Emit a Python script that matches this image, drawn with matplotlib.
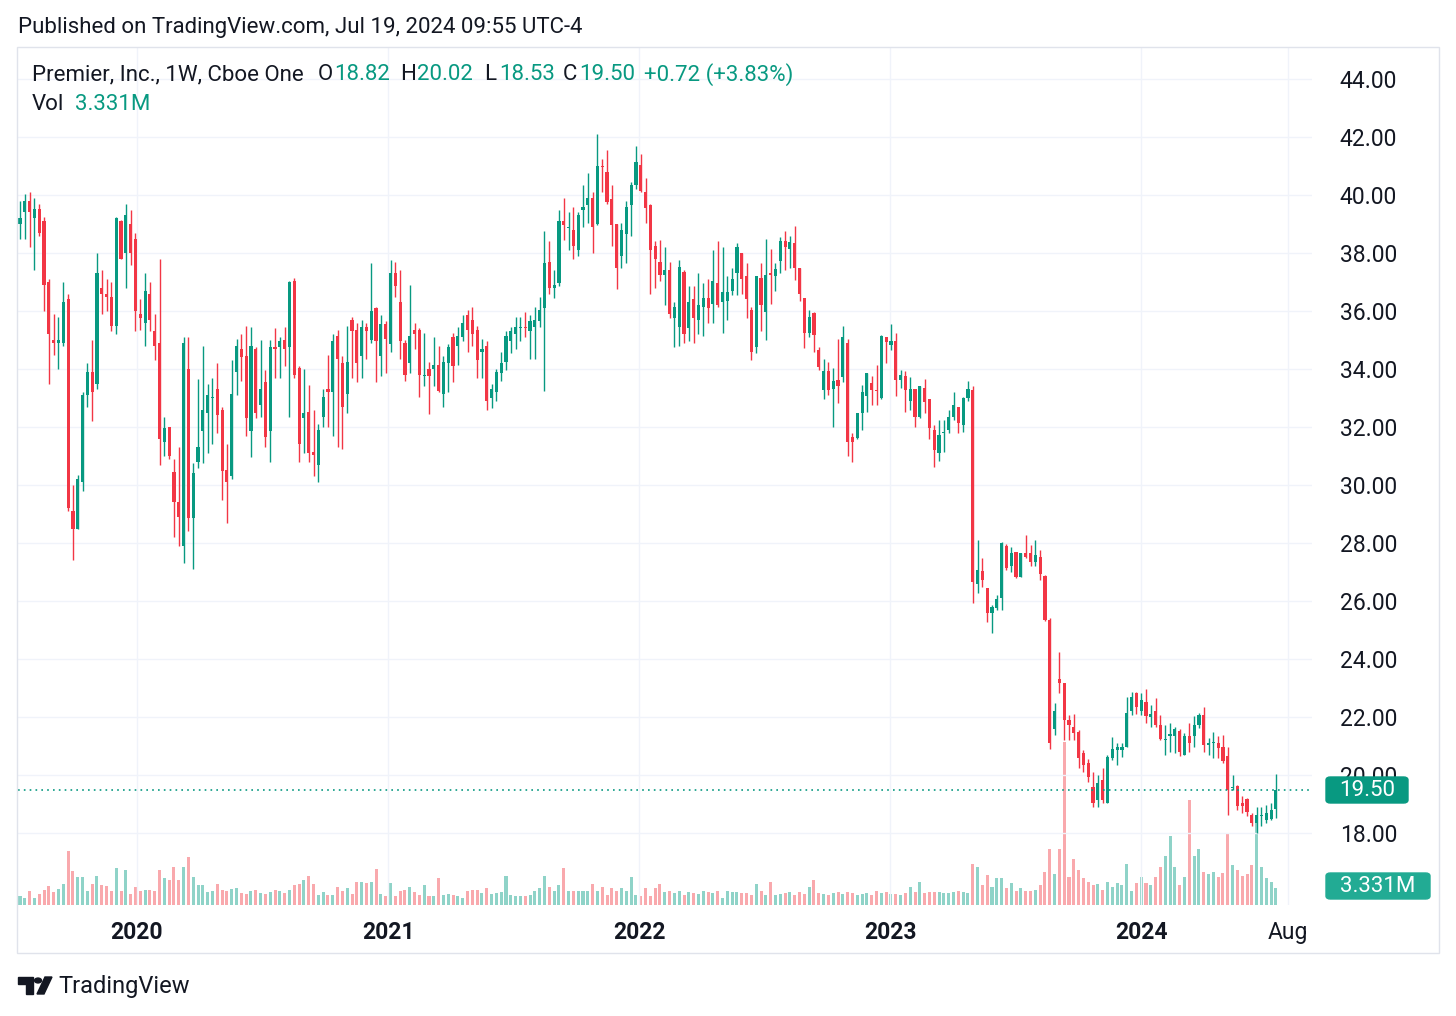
import numpy as np
import pandas as pd
import matplotlib
matplotlib.use('Agg')
import matplotlib.pyplot as plt
import matplotlib.dates as mdates
from matplotlib.patches import Rectangle, FancyBboxPatch, Polygon, Circle

plt.rcParams['font.family'] = ['Roboto', 'DejaVu Sans']

# weekly candles, Premier Inc. (PINC), Jul 2019 - Jul 2024
weeks = pd.date_range('2019-07-15', periods=262, freq='7D')

opens = [
    39.0, 39.4, 39.8, 39.2, 39.5, 39.1, 37.0, 35.0, 34.9, 34.9, 36.4, 29.1, 28.5, 30.1, 33.1, 33.9, 33.5, 36.8, 36.6, 36.5, 35.5, 39.1, 38.0, 39.0,
    38.5, 35.9, 35.6, 36.6, 35.3, 34.9, 31.5, 32.0, 30.45, 29.4, 27.9, 34.0, 28.85, 30.8, 31.85, 32.5, 33.0, 33.3, 32.6, 30.5, 30.3, 33.9, 34.7, 34.45,
    31.85, 34.7, 32.75, 33.55, 31.85, 34.75, 34.75, 35.0, 34.75, 37.05, 34.05, 32.3, 32.5, 31.15, 30.7, 32.35, 33.3, 33.2, 35.15, 34.2, 33.15, 35.7, 35.35, 34.45,
    35.45, 35.0, 36.1, 34.45, 35.55, 34.85, 37.3, 36.3, 34.9, 34.2, 35.35, 35.35, 33.75, 34.0, 34.0, 34.15, 33.15, 34.2, 35.1, 34.8, 35.1, 35.85, 35.7, 35.35,
    34.6, 34.8, 33.0, 33.2, 33.85, 34.25, 34.95, 35.2, 35.4, 35.45, 35.3, 35.45, 35.65, 36.1, 37.7, 36.8, 36.95, 39.1, 38.85, 38.8, 38.1, 39.5, 39.65, 39.9,
    39.0, 41.0, 40.8, 39.85, 39.0, 37.9, 38.65, 39.65, 40.35, 41.05, 40.1, 39.65, 38.25, 37.7, 37.25, 37.4, 35.75, 35.45, 37.35, 35.4, 36.4, 35.7, 36.15, 36.45,
    36.25, 36.95, 36.3, 36.35, 36.7, 37.3, 38.0, 37.2, 36.05, 34.75, 37.15, 35.95, 37.3, 37.2, 37.74, 38.4, 38.13, 38.36, 37.47, 36.44, 35.23, 35.92, 34.66,
    33.27, 33.93, 33.3, 33.62, 33.73, 34.88, 31.66, 31.63, 32.49, 33.06, 33.52, 33.27, 33.0, 35.11, 34.82, 34.97, 33.62, 33.75, 32.9, 33.3, 32.35, 33.33, 32.95, 31.9,
    31.12, 31.8, 31.9, 32.36, 32.68, 32.07, 33.0, 33.26, 26.6, 27.02, 26.44, 25.6, 25.75, 26.1, 27.88, 27.19, 27.7, 26.84, 27.65, 27.65, 27.36, 27.53, 26.87, 25.35,
    21.6, 23.3, 23.16, 21.9, 21.64, 21.5, 20.75, 20.42, 19.6, 19.14, 19.83, 19.05, 20.57, 20.86, 20.86, 20.98, 22.2, 22.84, 22.2, 22.53, 22.0, 22.22, 21.72, 21.2,
    21.35, 21.35, 21.5, 20.7, 21.33, 21.33, 21.73, 22.07, 21.04, 21.1, 21.12, 20.98, 20.64, 19.55, 19.62, 19.05, 19.16, 18.62, 18.34, 18.57, 18.45, 18.5, 18.82,
]
highs = [
    39.8, 40.05, 40.1, 39.9, 39.7, 39.25, 37.1, 35.9, 35.8, 37.0, 36.6, 30.0, 30.35, 33.2, 34.2, 35.0, 38.0, 37.4, 37.1, 37.0, 39.25, 39.15, 39.7, 39.5,
    38.7, 36.4, 37.3, 37.0, 35.9, 37.8, 32.35, 32.0, 30.9, 31.3, 35.1, 35.1, 30.75, 33.65, 34.8, 33.5, 33.7, 34.2, 32.7, 31.4, 34.3, 35.05, 35.2, 35.5,
    35.45, 34.75, 35.0, 33.95, 35.0, 35.4, 35.1, 35.45, 37.05, 37.15, 34.1, 34.0, 33.45, 32.6, 32.1, 33.3, 34.5, 35.2, 35.35, 34.45, 35.5, 35.8, 35.6, 35.7,
    35.6, 37.65, 36.15, 35.85, 35.65, 37.75, 37.7, 37.4, 35.0, 36.9, 35.6, 35.4, 35.25, 34.25, 35.1, 34.8, 34.45, 34.85, 35.25, 35.45, 35.85, 36.05, 36.15, 35.5,
    35.05, 34.95, 33.5, 34.0, 34.6, 35.3, 35.45, 35.8, 35.8, 35.95, 35.85, 36.15, 36.5, 38.75, 38.4, 37.4, 39.5, 39.9, 39.4, 39.6, 39.4, 40.35, 40.75, 40.1,
    42.1, 41.25, 41.55, 40.35, 39.0, 39.05, 39.8, 40.45, 41.7, 41.4, 40.6, 39.7, 38.4, 38.45, 38.2, 37.7, 36.3, 37.75, 37.4, 36.85, 36.85, 37.3, 36.95, 37.1,
    38.1, 38.4, 38.2, 37.2, 37.5, 38.35, 38.0, 37.65, 36.15, 37.2, 37.65, 38.5, 38.15, 37.65, 38.54, 38.77, 38.6, 38.93, 37.5, 36.44, 36.04, 35.98, 34.77,
    34.36, 34.25, 34.05, 35.05, 35.48, 35.02, 31.78, 32.49, 33.44, 33.85, 33.75, 34.13, 35.17, 35.11, 35.55, 35.23, 33.96, 33.94, 33.71, 33.3, 33.41, 33.67, 32.98, 32.06,
    32.25, 32.25, 32.59, 33.22, 32.68, 33.05, 33.57, 33.42, 28.1, 27.48, 26.44, 25.87, 26.21, 28.05, 27.97, 27.85, 27.7, 27.67, 28.28, 27.94, 28.11, 27.76, 26.9, 25.4,
    22.5, 24.25, 23.18, 22.07, 22.1, 21.55, 20.86, 20.54, 20.11, 20.0, 20.23, 20.69, 21.32, 21.09, 21.11, 22.68, 22.87, 22.87, 22.82, 22.95, 22.4, 22.64, 22.07, 21.72,
    21.8, 21.67, 21.58, 21.46, 21.8, 22.04, 22.13, 22.34, 21.27, 21.5, 21.35, 21.38, 20.98, 20.0, 19.66, 19.26, 19.2, 18.68, 18.91, 18.91, 18.97, 19.03, 20.02,
]
lows = [
    38.5, 38.5, 38.2, 37.4, 38.6, 36.0, 33.5, 34.5, 34.0, 34.8, 29.1, 27.4, 28.5, 29.8, 32.7, 32.2, 33.3, 35.9, 36.0, 35.3, 35.2, 37.8, 36.8, 37.6,
    35.3, 35.35, 34.8, 35.3, 34.3, 30.7, 31.0, 30.9, 28.2, 27.9, 27.3, 28.4, 27.1, 30.6, 30.75, 31.1, 31.4, 31.8, 29.5, 28.7, 30.2, 33.1, 33.6, 31.7,
    30.97, 32.3, 32.35, 31.3, 30.8, 33.7, 33.7, 34.1, 32.35, 33.7, 30.8, 31.1, 30.8, 30.3, 30.1, 32.0, 32.0, 31.7, 31.3, 31.25, 32.5, 33.7, 33.55, 33.7,
    34.35, 34.9, 33.55, 33.75, 33.85, 34.6, 36.5, 34.35, 33.6, 33.85, 34.7, 33.05, 33.4, 32.45, 33.4, 33.2, 32.7, 33.2, 33.55, 34.15, 34.95, 34.6, 34.8, 33.7,
    33.7, 32.6, 32.65, 32.9, 33.6, 33.95, 34.55, 34.7, 34.95, 35.1, 34.35, 34.35, 35.45, 33.25, 36.6, 36.45, 36.85, 38.45, 38.1, 37.8, 37.9, 38.9, 39.05, 38.0,
    38.98, 40.1, 39.7, 38.25, 36.75, 37.5, 37.65, 38.6, 40.2, 40.1, 39.05, 36.6, 36.8, 37.05, 36.2, 35.75, 34.75, 34.8, 34.9, 34.95, 34.9, 35.2, 35.15, 35.6,
    35.6, 36.15, 35.25, 35.7, 36.55, 36.55, 36.6, 35.75, 34.3, 34.55, 35.3, 35.0, 36.25, 36.7, 37.3, 37.4, 37.47, 37.07, 36.35, 34.72, 35.12, 34.57, 33.97,
    32.98, 33.1, 32.0, 32.83, 33.56, 31.0, 30.8, 31.6, 31.89, 32.52, 32.75, 32.75, 32.98, 34.21, 34.65, 33.06, 33.33, 32.52, 32.6, 32.0, 32.3, 32.47, 31.6, 30.63,
    30.84, 31.15, 31.79, 32.25, 31.79, 31.84, 32.88, 25.92, 26.27, 26.5, 25.29, 24.89, 25.7, 25.7, 27.07, 27.0, 26.79, 26.84, 27.47, 27.19, 27.19, 26.73, 25.3, 20.9,
    21.38, 22.84, 21.2, 21.2, 21.2, 20.23, 20.11, 19.77, 18.9, 18.9, 19.02, 19.02, 20.52, 20.34, 20.63, 20.98, 22.07, 22.1, 22.07, 21.8, 21.67, 21.64, 21.2, 20.69,
    20.8, 20.75, 20.64, 20.69, 20.81, 20.98, 21.61, 20.81, 20.69, 20.58, 20.58, 20.4, 18.62, 19.5, 18.8, 18.68, 18.57, 18.25, 17.99, 18.25, 18.34, 18.45, 18.53,
]
closes = [
    39.2, 39.8, 39.4, 39.5, 38.7, 36.9, 35.2, 34.9, 35.0, 36.3, 29.2, 28.5, 30.2, 33.1, 33.9, 33.2, 37.3, 36.6, 36.5, 35.5, 39.2, 37.8, 39.3, 38.0,
    36.0, 35.75, 36.7, 35.7, 34.8, 31.6, 31.95, 31.0, 29.4, 28.9, 34.9, 28.85, 30.4, 31.3, 32.6, 33.1, 33.05, 32.4, 30.5, 30.1, 33.15, 34.8, 34.4, 32.3,
    34.8, 32.5, 33.3, 31.65, 34.75, 34.7, 34.95, 34.7, 37.0, 33.8, 31.4, 32.5, 31.1, 31.05, 31.9, 33.05, 33.2, 34.95, 34.35, 32.7, 34.25, 35.3, 34.2, 35.45,
    35.3, 36.0, 34.95, 35.55, 35.05, 37.3, 36.85, 34.95, 33.8, 35.15, 35.2, 33.8, 33.8, 33.75, 34.15, 33.25, 34.25, 34.75, 34.1, 35.15, 35.6, 35.35, 35.2, 34.3,
    34.7, 32.9, 33.3, 33.9, 34.2, 35.15, 35.3, 35.45, 35.45, 35.4, 35.65, 35.7, 36.05, 37.65, 36.8, 36.9, 39.1, 38.95, 38.88, 38.25, 39.3, 39.6, 39.9, 38.9,
    41.0, 40.95, 39.75, 38.95, 37.5, 38.8, 39.6, 40.35, 41.15, 40.15, 39.55, 38.1, 37.8, 37.25, 37.4, 35.9, 36.15, 37.5, 35.2, 36.3, 35.75, 36.2, 36.45, 36.1,
    37.05, 36.2, 36.65, 36.65, 37.1, 38.2, 37.1, 36.4, 34.6, 37.2, 36.2, 37.25, 37.25, 37.45, 38.43, 38.2, 38.39, 37.47, 36.6, 35.23, 35.8, 35.17, 34.08,
    33.93, 33.27, 33.6, 33.41, 35.11, 31.49, 31.49, 32.47, 33.2, 33.85, 33.29, 33.23, 35.13, 34.94, 34.97, 33.62, 33.79, 33.27, 33.3, 32.35, 33.41, 32.87, 31.98, 31.2,
    31.73, 31.84, 32.36, 32.76, 32.13, 33.0, 33.3, 26.67, 27.07, 26.73, 25.6, 25.79, 26.06, 28.0, 27.13, 27.67, 26.84, 27.65, 27.53, 27.36, 27.59, 26.94, 25.35, 21.1,
    22.2, 23.16, 21.9, 21.72, 21.44, 20.57, 20.35, 19.94, 19.02, 19.71, 19.14, 20.63, 20.88, 20.95, 20.98, 22.15, 22.7, 22.36, 22.6, 22.03, 22.1, 21.72, 21.23, 21.25,
    21.4, 21.6, 20.8, 21.33, 21.1, 21.73, 22.07, 21.04, 21.12, 21.15, 20.92, 20.5, 19.49, 19.6, 18.94, 18.94, 18.74, 18.34, 18.62, 18.62, 18.68, 18.8, 19.5,
]
# volume in millions of shares
volumes = [
    1.7, 1.4, 2.7, 1.4, 2.2, 3.0, 3.7, 2.6, 3.2, 4.1, 10.6, 6.6, 5.4, 5.4, 2.8, 4.1, 5.7, 3.9, 3.7, 2.7, 7.2, 2.7, 6.8, 2.1,
    3.5, 2.7, 2.9, 3.0, 2.8, 6.9, 5.3, 4.8, 7.5, 4.8, 7.5, 9.4, 5.4, 3.9, 3.9, 2.6, 2.8, 4.1, 3.0, 2.8, 3.2, 3.4, 2.4, 2.2,
    2.7, 3.0, 2.4, 2.2, 2.6, 3.0, 2.8, 2.4, 3.0, 4.0, 4.1, 4.8, 5.6, 4.1, 2.0, 2.6, 1.9, 1.9, 3.5, 2.7, 3.4, 2.2, 4.6, 4.5,
    4.4, 4.5, 7.1, 2.2, 1.7, 4.3, 1.7, 2.8, 3.0, 3.5, 2.6, 1.9, 4.0, 1.7, 1.7, 5.2, 2.0, 2.1, 1.9, 1.7, 1.4, 2.7, 3.0, 3.0,
    2.4, 3.4, 2.2, 2.4, 2.6, 5.6, 1.9, 1.7, 1.7, 1.7, 1.9, 2.8, 3.4, 5.6, 3.5, 2.8, 4.0, 7.2, 2.7, 2.8, 2.7, 2.8, 2.8, 4.1,
    2.7, 3.5, 2.0, 3.4, 2.8, 3.4, 2.8, 5.4, 2.0, 1.7, 3.3, 1.7, 3.4, 4.1, 2.6, 2.8, 2.4, 2.7, 2.0, 2.6, 2.4, 2.1, 2.8, 2.5,
    2.4, 2.8, 1.4, 2.8, 2.6, 2.6, 2.4, 2.4, 2.0, 4.1, 2.7, 2.0, 4.6, 2.0, 2.2, 2.4, 2.5, 2.0, 2.6, 2.2, 3.6, 4.8, 2.4,
    2.2, 2.0, 2.4, 2.6, 2.1, 2.5, 2.3, 2.0, 2.2, 2.4, 2.0, 2.8, 2.3, 2.5, 2.2, 2.2, 2.0, 2.4, 3.6, 2.5, 4.5, 2.4, 2.6, 2.5,
    2.6, 2.4, 2.3, 2.6, 2.8, 2.5, 2.4, 8.0, 7.4, 4.0, 5.9, 3.5, 5.2, 5.3, 3.4, 4.3, 2.7, 3.4, 2.7, 2.8, 3.0, 4.0, 6.5, 11.0,
    6.0, 11.0, 32.0, 5.4, 9.0, 6.9, 5.3, 4.6, 4.0, 4.1, 3.0, 4.5, 3.5, 4.4, 4.0, 8.0, 2.7, 4.4, 5.4, 4.3, 4.0, 5.4, 7.5, 9.5,
    13.5, 7.5, 3.9, 5.4, 20.5, 9.5, 11.0, 6.5, 6.0, 6.5, 5.5, 6.2, 14.0, 7.9, 6.8, 5.7, 6.0, 7.9, 17.0, 7.5, 5.2, 4.5, 3.331,
]

price_ticks = [18, 20, 22, 24, 26, 28, 30, 32, 34, 36, 38, 40, 42, 44]
time_ticks = ['2020-01-01', '2021-01-01', '2022-01-01', '2023-01-01', '2024-01-01', '2024-08-01']
time_labels = ['2020', '2021', '2022', '2023', '2024', 'Aug']
last_price = 19.50
last_volume = '3.331M'

UP = '#089981'
DOWN = '#F23645'
TXT = '#131722'
GRID = '#f0f3fa'
FS = 16

W, H = 1456, 1016


def fx(x):
    return x / W


def fy(y):
    return 1 - y / H


x = mdates.date2num(weeks.to_pydatetime())
o = np.array(opens)
h = np.array(highs)
l = np.array(lows)
c = np.array(closes)
v = np.array(volumes)
up = c >= o
col = np.where(up, UP, DOWN)

fig = plt.figure(figsize=(W / 100, H / 100), dpi=100)

# plot area: x 18..1312 px, y 47..905 px
ax = fig.add_axes([fx(18), fy(905), fx(1312) - fx(18), fy(47) - fy(905)])
ax2 = ax.twinx()
ax2.set_zorder(ax.get_zorder() - 1)
ax.patch.set_visible(False)

# volume
ax2.bar(x, v, width=4.4, color=np.where(up, '#8fd3c8', '#f9a9ad'), linewidth=0)
ax2.set_ylim(0, 168)
ax2.set_yticks([])
for s in ax2.spines.values():
    s.set_visible(False)

# candles
ax.vlines(x, l, h, colors=col, linewidth=1)
body_lo = np.minimum(o, c)
body_h = np.maximum(np.abs(c - o), 0.04)
ax.bar(x, body_h, bottom=body_lo, width=4.6, color=col, linewidth=0)
ax.axhline(last_price, color=UP, linestyle=(0, (1, 2.5)), linewidth=1.2)

x0 = x[0]
ax.set_xlim(x0 - 2.9, x0 + 1879.5)
ax.set_ylim(44 - 826 / 29, 44 + 32 / 29)

ax.set_xticks(mdates.date2num(pd.to_datetime(time_ticks).to_pydatetime()))
ax.set_xticklabels(time_labels)
for t, lab in zip(ax.get_xticklabels(), time_labels):
    t.set_fontweight('normal' if lab == 'Aug' else 'bold')
ax.tick_params(axis='x', length=0, pad=11.5, labelsize=16.5, labelcolor=TXT)

ax.yaxis.tick_right()
ax.set_yticks(price_ticks)
ax.set_yticklabels(['%.2f' % p for p in price_ticks])
ax.tick_params(axis='y', length=0, pad=20, labelsize=16.5, labelcolor=TXT)
ax.grid(True, color=GRID, linewidth=1)
ax.set_axisbelow(True)
for s in ax.spines.values():
    s.set_visible(False)

# frame
fig.add_artist(Rectangle((fx(17), fy(953)), fx(1439) - fx(17), fy(47) - fy(953),
                         fill=False, edgecolor='#e0e3eb', linewidth=1, transform=fig.transFigure))

# last price / volume labels
fig.add_artist(FancyBboxPatch((fx(1326), fy(803)), fx(1408) - fx(1326), fy(777) - fy(803),
                              boxstyle='round,pad=0,rounding_size=0.003', color=UP,
                              transform=fig.transFigure, zorder=5))
fig.text(fx(1367), fy(790), '%.2f' % last_price, color='white', fontsize=FS,
         ha='center', va='center', zorder=6)
fig.add_artist(FancyBboxPatch((fx(1326), fy(899)), fx(1430) - fx(1326), fy(873) - fy(899),
                              boxstyle='round,pad=0,rounding_size=0.003', color='#22ab94',
                              transform=fig.transFigure, zorder=5))
fig.text(fx(1378), fy(886), last_volume, color='white', fontsize=FS,
         ha='center', va='center', zorder=6)

# header and legend
fig.text(fx(18), fy(27), 'Published on TradingView.com, Jul 19, 2024 09:55 UTC-4',
         color=TXT, fontsize=FS, va='center')
fig.text(fx(32), fy(75), 'Premier, Inc., 1W, Cboe One', color=TXT, fontsize=FS, va='center')
legend_parts = [(318, 'O', TXT), (334, '18.82', UP), (400, 'H', TXT), (417, '20.02', UP),
                (484, 'L', TXT), (499, '18.53', UP), (563, 'C', TXT), (579, '19.50', UP),
                (644, '+0.72 (+3.83%)', UP)]
for px, s, cc in legend_parts:
    fig.text(fx(px), fy(75), s, color=cc, fontsize=FS, va='center')
fig.text(fx(32), fy(104), 'Vol', color=TXT, fontsize=FS, va='center')
fig.text(fx(75), fy(104), last_volume, color=UP, fontsize=FS, va='center')

# TradingView logo
def poly(pts):
    return Polygon([(fx(a), fy(b)) for a, b in pts], closed=True, color=TXT,
                   transform=fig.transFigure)

fig.add_artist(poly([(18, 977), (33, 977), (33, 994), (26, 994), (26, 984), (18, 984)]))
fig.add_artist(Circle((fx(38), fy(980.5)), 3.5 / W, color=TXT, transform=fig.transFigure))
fig.add_artist(poly([(45, 977), (52, 977), (44, 994), (37, 994)]))
fig.text(fx(58), fy(986), 'TradingView', color=TXT, fontsize=17, va='center')

fig.savefig('out.png', dpi=100)
